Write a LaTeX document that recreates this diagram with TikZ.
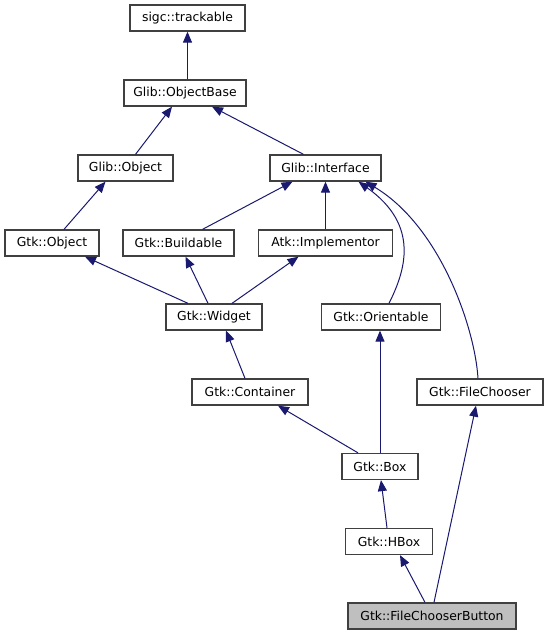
\documentclass[tikz,border=0pt]{standalone}
\usepackage{fontspec}
\setmainfont{DejaVu Sans}
\usepackage{tikz}
\usetikzlibrary{arrows.meta,positioning}
\definecolor{edgeblue}{RGB}{25,25,112}
\definecolor{boxline}{RGB}{64,64,64}
\tikzset{
  cls/.style={draw=boxline, line width=1.3pt, fill=white, minimum height=26pt, inner sep=0pt,
    font=\fontsize{12.4}{14}\selectfont},
  cur/.style={cls, fill=black!25},
  inh/.style={draw=edgeblue, line width=1pt, -{Triangle[length=11pt,width=9pt]}}
}

\begin{document}
\begin{tikzpicture}[x=1pt,y=-1pt]
\useasboundingbox (0,0) rectangle (548,635);
\node[cls, minimum width=115pt] (trackable) at (187.5,18) {sigc::trackable};
\node[cls, minimum width=122pt] (objbase) at (185,93) {Glib::ObjectBase};
\node[cls, minimum width=95pt] (gobj) at (125.5,168) {Glib::Object};
\node[cls, minimum width=111pt] (iface) at (325.5,168) {Glib::Interface};
\node[cls, minimum width=94pt] (gtkobj) at (52,243) {Gtk::Object};
\node[cls, minimum width=111pt] (buildable) at (178.5,243) {Gtk::Buildable};
\node[cls, minimum width=134pt] (implementor) at (325.5,243) {Atk::Implementor};
\node[cls, minimum width=96pt] (widget) at (214,317) {Gtk::Widget};
\node[cls, minimum width=119pt] (orientable) at (381,317) {Gtk::Orientable};
\node[cls, minimum width=116pt] (container) at (250,392) {Gtk::Container};
\node[cls, minimum width=126pt] (fchooser) at (480,392) {Gtk::FileChooser};
\node[cls, minimum width=76pt] (box) at (380,466.5) {Gtk::Box};
\node[cls, minimum width=87pt] (hbox) at (389,541.5) {Gtk::HBox};
\node[cur, minimum width=168pt] (fcbutton) at (432,616) {Gtk::FileChooserButton};

\draw[inh] (objbase.north -| trackable.south) -- (trackable.south);
\draw[inh] ([xshift=10pt]gobj.north) -- ([xshift=-13pt]objbase.south);
\draw[inh] ([xshift=-22pt]iface.north) -- ([xshift=27pt]objbase.south);
\draw[inh] ([xshift=12pt]gtkobj.north) -- ([xshift=-20pt]gobj.south);
\draw[inh] ([xshift=24pt]buildable.north) -- ([xshift=-33pt]iface.south);
\draw[inh] (implementor.north) -- (iface.south);
\draw[inh] ([xshift=8pt]orientable.north) .. controls +(16,-32) and +(62,44) .. ([xshift=33pt]iface.south);
\draw[inh] ([xshift=-2pt]fchooser.north) .. controls +(-3,-50) and +(75,45) .. ([xshift=40pt]iface.south);
\draw[inh] ([xshift=-26pt]widget.north) -- ([xshift=33pt]gtkobj.south);
\draw[inh] ([xshift=-6pt]widget.north) -- ([xshift=7pt]buildable.south);
\draw[inh] ([xshift=18pt]widget.north) -- ([xshift=-27pt]implementor.south);
\draw[inh] ([xshift=-5pt]container.north) -- ([xshift=12pt]widget.south);
\draw[inh] ([xshift=-22pt]box.north) -- ([xshift=28pt]container.south);
\draw[inh] (box.north) -- (box.north |- orientable.south);
\draw[inh] ([xshift=-2pt]hbox.north) -- ([xshift=1pt]box.south);
\draw[inh] ([xshift=-7pt]fcbutton.north) -- ([xshift=11pt]hbox.south);
\draw[inh] ([xshift=2pt]fcbutton.north) -- ([xshift=-4pt]fchooser.south);
\end{tikzpicture}
\end{document}
